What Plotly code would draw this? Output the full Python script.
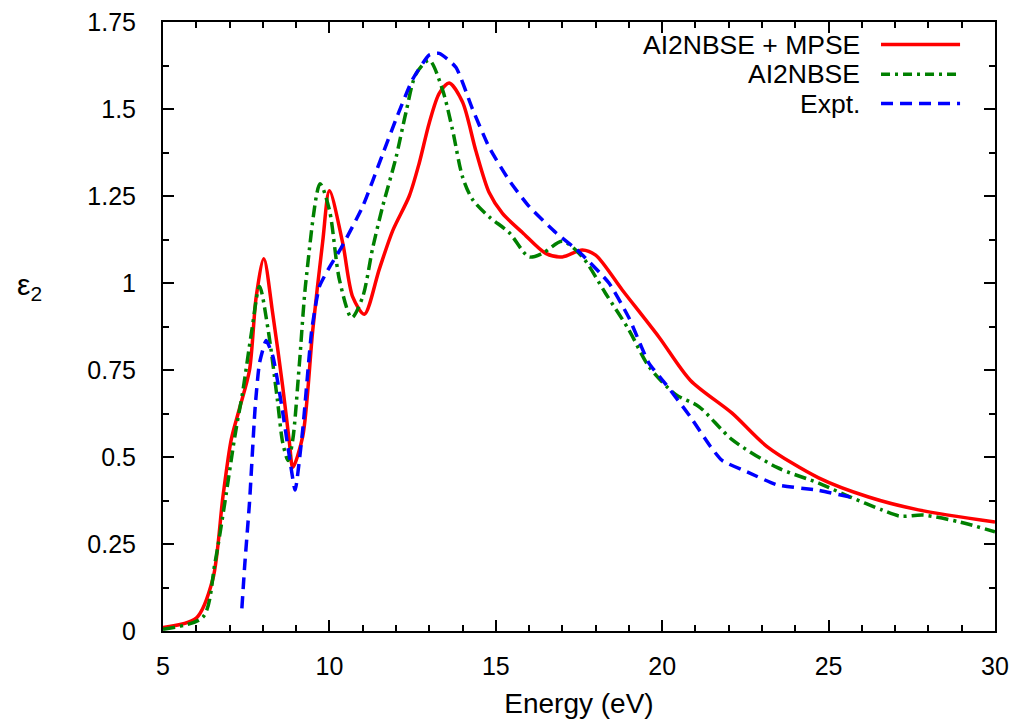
import plotly.graph_objects as go

# AI2NBSE + MPSE (red, solid)
mpse_x = [5.0, 6.0, 6.5, 6.8, 7.05, 7.3, 7.6, 7.8, 8.03, 8.3, 8.6, 8.8, 8.9, 9.2, 9.5, 9.8, 10.0,
          10.4, 10.7, 11.05, 11.5, 11.9, 12.4, 12.7, 13.0, 13.3, 13.6, 14.0, 14.4, 14.8, 15.2,
          15.8, 16.5, 17.0, 17.6, 18.0, 18.8, 19.9, 20.85, 22.1, 23.15, 24.7, 26.2, 27.7, 30.0]
mpse_y = [0.01, 0.037, 0.15, 0.385, 0.55, 0.64, 0.75, 0.96, 1.07, 0.91, 0.70, 0.54, 0.47, 0.56, 0.865,
          1.12, 1.265, 1.115, 0.96, 0.91, 1.04, 1.15, 1.25, 1.345, 1.46, 1.545, 1.575, 1.52, 1.38,
          1.26, 1.20, 1.145, 1.085, 1.075, 1.095, 1.08, 0.98, 0.845, 0.72, 0.626, 0.53, 0.44, 0.385,
          0.348, 0.313]

# AI2NBSE (green, dash-dot)
nbse_x = [5.0, 6.2, 6.56, 6.86, 7.16, 7.4, 7.67, 7.9, 8.16, 8.43, 8.6, 8.76, 8.9, 9.1, 9.3, 9.72,
          10.0, 10.3, 10.67, 11.0, 11.3, 11.6, 12.0, 12.3, 12.6, 13.0, 13.4, 13.7, 14.0, 14.3, 14.8,
          15.4, 16.0, 16.4, 17.0, 17.6, 18.3, 19.0, 19.6, 20.4, 21.1, 22.1, 23.45, 24.7, 25.65,
          26.6, 27.15, 27.85, 28.95, 30.0]
nbse_y = [0.005, 0.04, 0.195, 0.37, 0.56, 0.69, 0.865, 0.99, 0.865, 0.67, 0.54, 0.49, 0.55, 0.77,
          1.01, 1.285, 1.21, 1.01, 0.90, 0.96, 1.10, 1.22, 1.36, 1.49, 1.60, 1.64, 1.555, 1.44, 1.305,
          1.24, 1.19, 1.145, 1.075, 1.085, 1.12, 1.075, 0.97, 0.865, 0.76, 0.68, 0.645, 0.55, 0.47,
          0.425, 0.385, 0.348, 0.33, 0.333, 0.313, 0.285]

# Expt. (blue, dashed)
expt_x = [7.37, 7.46, 7.6, 7.77, 7.9, 8.1, 8.3, 8.57, 8.8, 8.97, 9.2, 9.47, 9.7, 10.0, 10.35,
          11.0, 11.6, 12.0, 12.5, 13.0, 13.3, 13.8, 14.3, 14.8, 15.4, 16.0, 16.8, 17.5, 18.4,
          19.0, 19.6, 20.1, 20.85, 21.45, 21.8, 22.6, 23.45, 24.65, 25.65]
expt_y = [0.065, 0.195, 0.37, 0.645, 0.77, 0.835, 0.79, 0.645, 0.50, 0.405, 0.58, 0.865, 0.99,
          1.045, 1.10, 1.22, 1.37, 1.47, 1.585, 1.655, 1.66, 1.62, 1.50, 1.39, 1.295, 1.22, 1.145,
          1.09, 1.0, 0.90, 0.77, 0.71, 0.615, 0.53, 0.49, 0.455, 0.42, 0.405, 0.385]

series_names = ["AI2NBSE + MPSE", "AI2NBSE", "Expt."]
y_tickvals = [0, 0.25, 0.5, 0.75, 1, 1.25, 1.5, 1.75]
y_ticktext = ["0", "0.25", "0.5", "0.75", "1", "1.25", "1.5", "1.75"]
x_tickvals = [5, 10, 15, 20, 25, 30]

FONT = "Liberation Sans, Arial, Helvetica, sans-serif"
colors = ["#ff0000", "#008000", "#0000ff"]

fig = go.Figure()
fig.add_trace(go.Scatter(x=mpse_x, y=mpse_y, mode="lines", name=series_names[0],
                         line=dict(color=colors[0], width=3.5, shape="spline", smoothing=0.8)))
fig.add_trace(go.Scatter(x=nbse_x, y=nbse_y, mode="lines", name=series_names[1],
                         line=dict(color=colors[1], width=3.5, shape="spline", smoothing=0.8,
                                   dash="12px,5px,3px,5px")))
fig.add_trace(go.Scatter(x=expt_x, y=expt_y, mode="lines", name=series_names[2],
                         line=dict(color=colors[2], width=3.5, shape="spline", smoothing=0.5,
                                   dash="12px,7px")))

# gnuplot-style legend: text right-aligned, sample to the right
legend_y = [0.963, 0.914, 0.866]
for i, name in enumerate(series_names):
    fig.add_annotation(x=0.8405, y=legend_y[i], xref="paper", yref="paper", text=name,
                       showarrow=False, xanchor="right", yanchor="middle",
                       font=dict(family=FONT, size=26.5, color="black"))
    fig.add_shape(type="line", xref="paper", yref="paper", x0=0.863, x1=0.958,
                  y0=legend_y[i], y1=legend_y[i],
                  line=dict(color=colors[i], width=3.5,
                            dash=["solid", "9px,5px,3px,5px", "12px,7px"][i]))

fig.add_annotation(x=-0.16, y=0.566, xref="paper", yref="paper", text="ε<sub>2</sub>",
                   showarrow=False, xanchor="center", yanchor="middle",
                   font=dict(family=FONT, size=30, color="black"))

fig.update_layout(
    width=1017, height=719,
    margin=dict(l=163, r=22, t=22, b=88, autoexpand=False),
    paper_bgcolor="white", plot_bgcolor="white",
    showlegend=False,
    font=dict(family=FONT, size=25, color="black"),
    xaxis=dict(range=[5, 30], tickvals=x_tickvals, ticks="inside", ticklen=11, tickwidth=2,
               tickcolor="black", showline=True, linecolor="black", linewidth=2, mirror="allticks",
               showgrid=False, zeroline=False, ticklabelstandoff=12, automargin=False,
               tickfont=dict(family=FONT, size=25),
               minor=dict(dtick=1, tick0=5, ticks="inside", ticklen=6, tickwidth=1.5, tickcolor="black"),
               title=dict(text="Energy (eV)", standoff=14, font=dict(family=FONT, size=28))),
    yaxis=dict(range=[0, 1.75], tickvals=y_tickvals, ticktext=y_ticktext, ticks="inside",
               ticklen=11, tickwidth=2, tickcolor="black", showline=True, linecolor="black",
               linewidth=2, mirror="allticks", showgrid=False, zeroline=False, ticklabelstandoff=20,
               automargin=False, tickfont=dict(family=FONT, size=25),
               minor=dict(dtick=0.125, tick0=0, ticks="inside", ticklen=6, tickwidth=1.5, tickcolor="black")),
)

fig.write_html("out.html")
